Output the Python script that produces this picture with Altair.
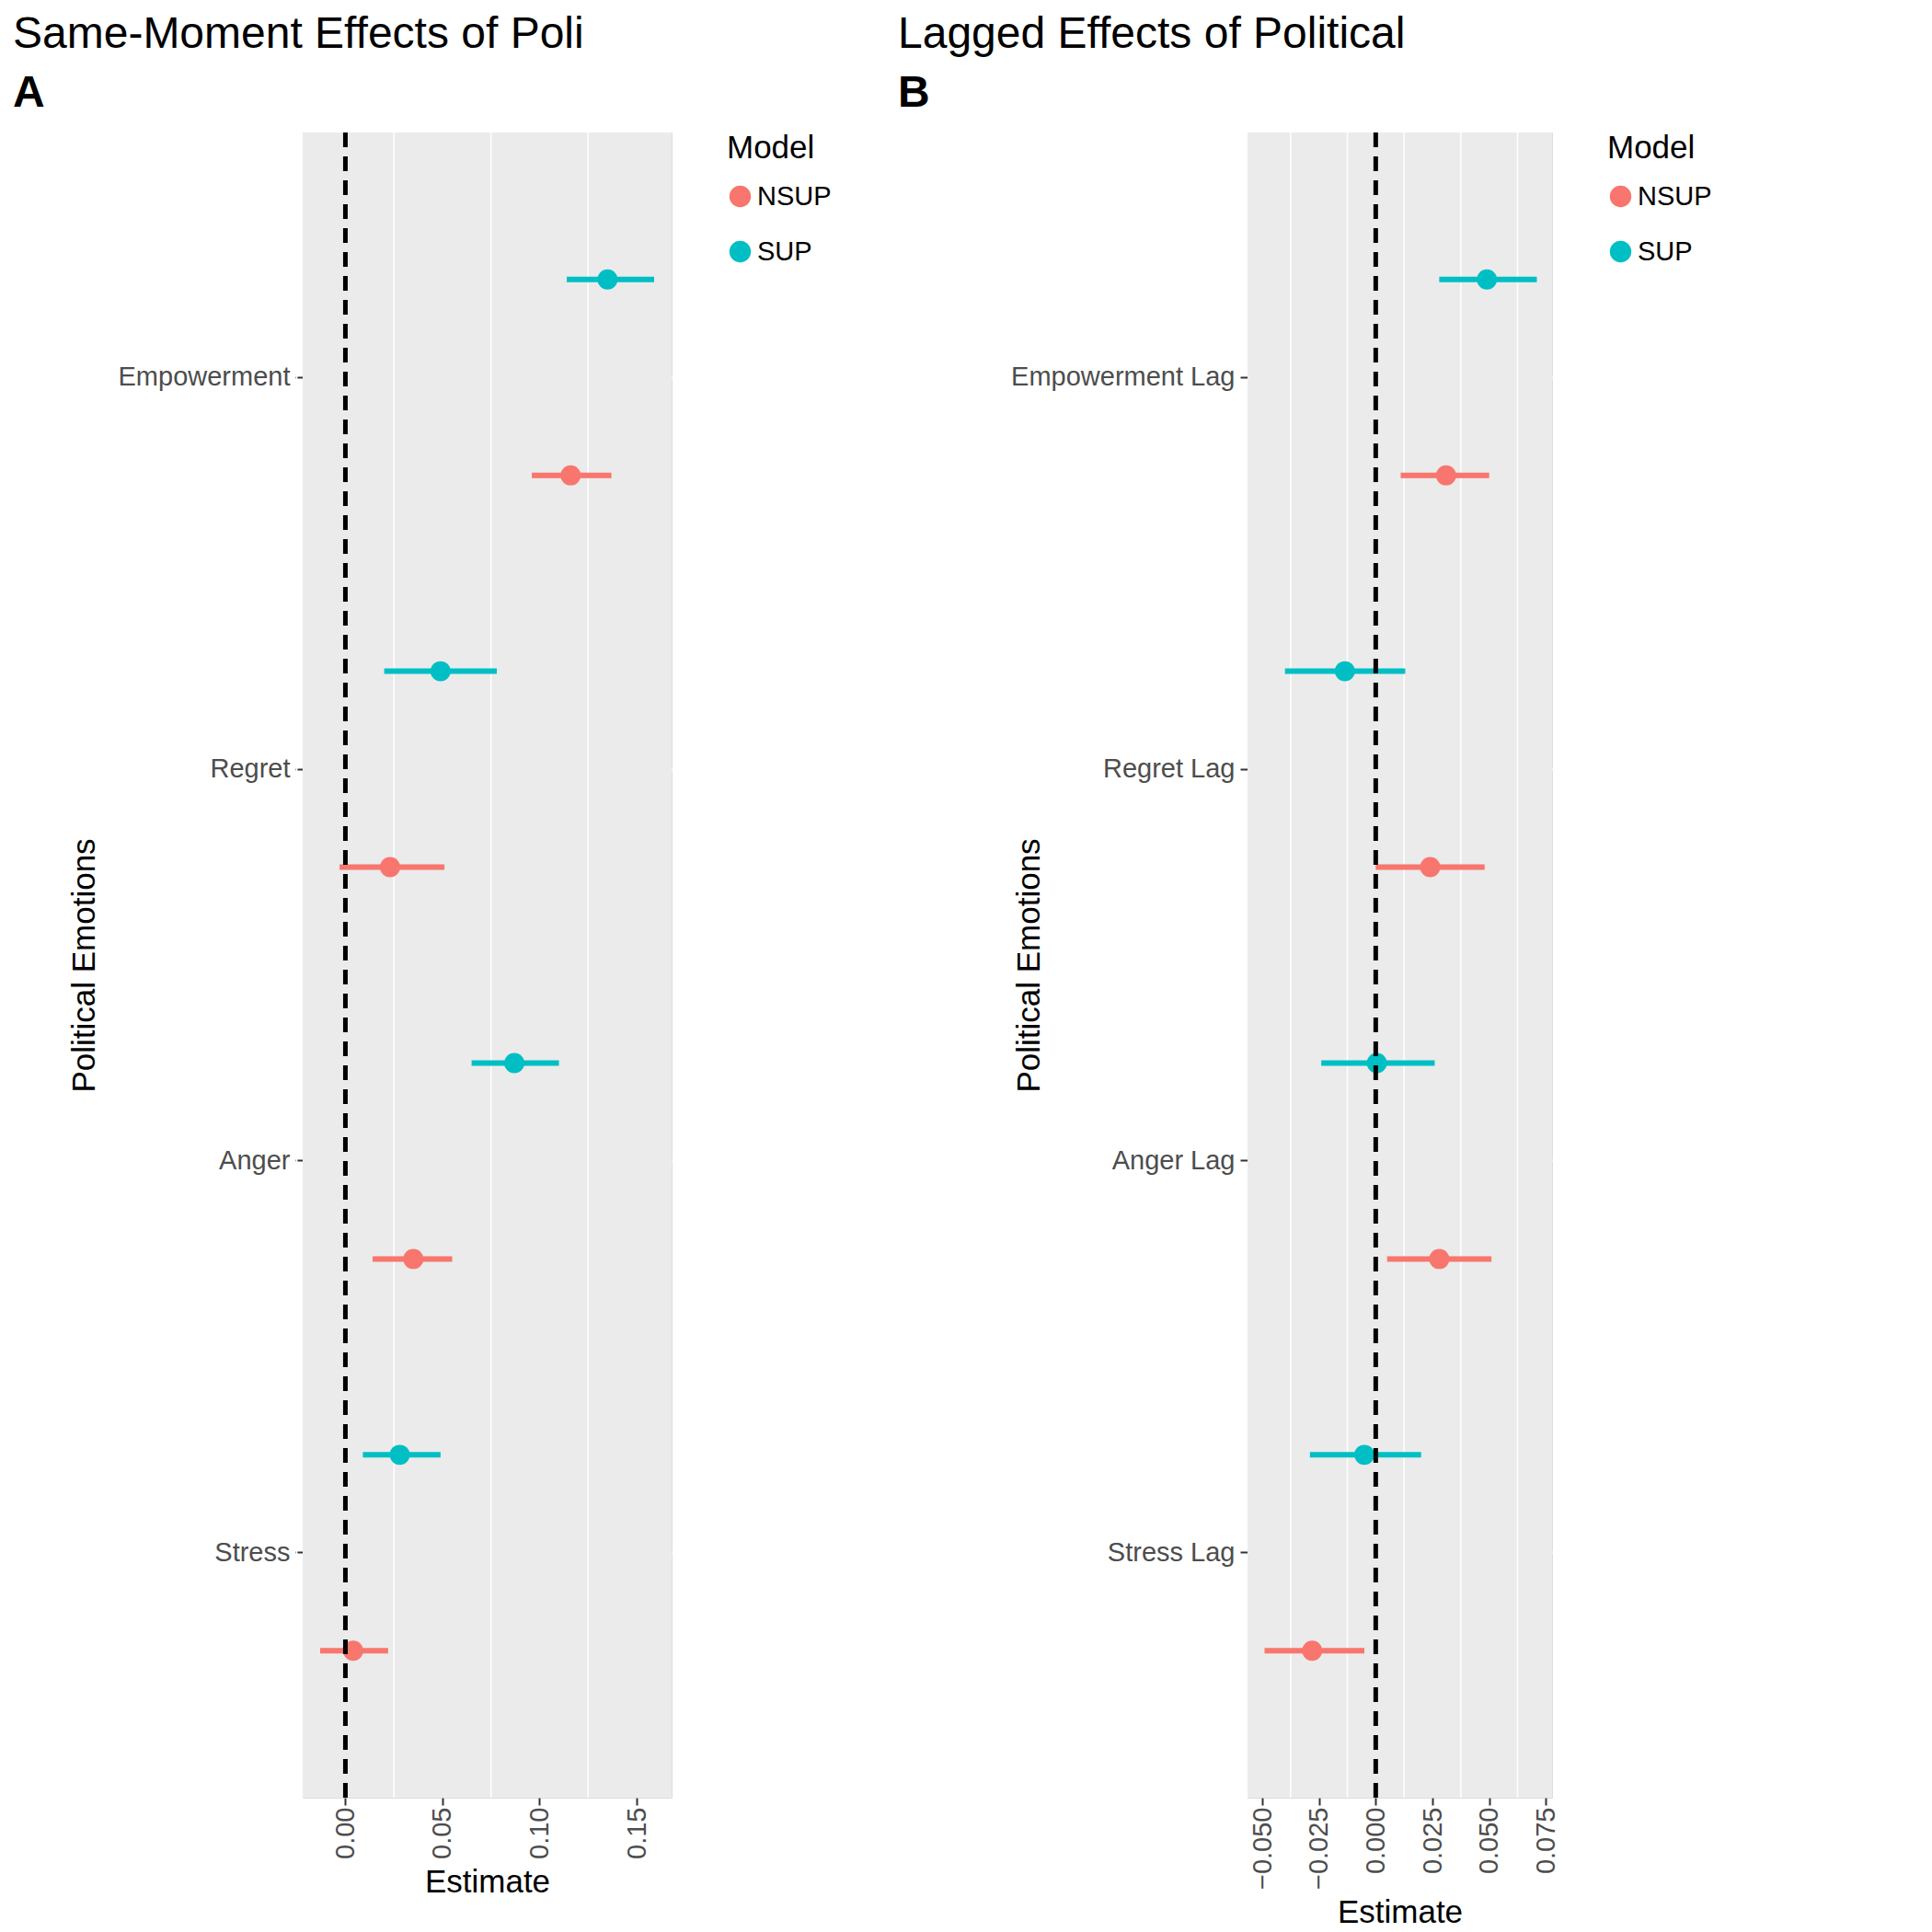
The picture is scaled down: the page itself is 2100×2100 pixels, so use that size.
import altair as alt
import pandas as pd

emotions_a = ["Empowerment", "Regret", "Anger", "Stress"]
emotions_b = ["Empowerment Lag", "Regret Lag", "Anger Lag", "Stress Lag"]
models = ["SUP", "NSUP"]

# per emotion: SUP then NSUP
est_a = [0.135, 0.116, 0.049, 0.023, 0.087, 0.035, 0.028, 0.004]
lo_a = [0.114, 0.096, 0.020, -0.003, 0.065, 0.014, 0.009, -0.013]
hi_a = [0.159, 0.137, 0.078, 0.051, 0.110, 0.055, 0.049, 0.022]

est_b = [0.049, 0.031, -0.0136, 0.024, 0.0005, 0.028, -0.005, -0.028]
lo_b = [0.028, 0.011, -0.040, 0.000, -0.024, 0.005, -0.029, -0.049]
hi_b = [0.071, 0.050, 0.013, 0.048, 0.026, 0.051, 0.020, -0.005]

minor_a = [-0.025, 0.025, 0.075, 0.125]
minor_b = [-0.0375, -0.0125, 0.0125, 0.0375, 0.0625]

FONT = "Liberation Sans"
COLORS = alt.Scale(domain=["NSUP", "SUP"], range=["#F8766D", "#00BFC4"])
HEIGHT = 1810


def panel(emotions, est, lo, hi, minor, xdom, xticks, width, title, tag, tagx):
    df = pd.DataFrame({
        "emotion": [e for e in emotions for _ in models],
        "model": models * len(emotions),
        "est": est, "lo": lo, "hi": hi,
    })
    ysc = alt.Scale(domain=emotions, paddingInner=0, paddingOuter=0.125)
    yoff = alt.Scale(domain=models, paddingInner=0, paddingOuter=0)
    xsc = alt.Scale(domain=xdom, nice=False, zero=False)
    y = alt.Y("emotion:N", scale=ysc, title="Political Emotions",
              axis=alt.Axis(labelFontSize=29, titleFontSize=35, titleFontWeight="normal",
                            labelColor="#4D4D4D", domain=False, tickColor="#333333",
                            tickSize=8, tickWidth=2, labelPadding=6, titlePadding=20,
                            labelLimit=0, grid=True, gridColor="white", gridWidth=3,
                            titleFont=FONT, labelFont=FONT))
    x = alt.X("est:Q", scale=xsc, title="Estimate",
              axis=alt.Axis(values=xticks, format=".2f" if len(xticks) == 4 else ".3f",
                            labelAngle=-90, labelFontSize=29, titleFontSize=35,
                            titleFontWeight="normal", labelColor="#4D4D4D", domain=False,
                            tickColor="#333333", tickSize=8, tickWidth=2, gridColor="white",
                            gridWidth=3, labelFont=FONT, titleFont=FONT, titlePadding=8))
    legend = alt.Legend(titleFontSize=35, titleFontWeight="normal", labelFontSize=29,
                        symbolSize=480, symbolType="circle", rowPadding=30,
                        titleFont=FONT, labelFont=FONT, offset=60, titlePadding=20,
                        orient="right")
    color = alt.Color("model:N", scale=COLORS, title="Model", legend=legend)
    bg = alt.Chart(pd.DataFrame({"b": [0]})).mark_rect(color="#EBEBEB").encode(
        x=alt.value(0), x2=alt.value(width), y=alt.value(0), y2=alt.value(HEIGHT))
    minor_df = pd.DataFrame({"m": minor})
    mgrid = alt.Chart(minor_df).mark_rule(color="white", strokeWidth=1.5).encode(
        x=alt.X("m:Q", scale=xsc))
    base = alt.Chart(df).encode(y=y, yOffset=alt.YOffset("model:N", scale=yoff))
    bars = base.mark_rule(strokeWidth=6).encode(
        x=alt.X("lo:Q", scale=xsc), x2="hi:Q", color=color)
    pts = base.mark_circle(size=480, opacity=1).encode(x=x, color=color)
    zero = alt.Chart(pd.DataFrame({"z": [0]})).mark_rule(
        color="black", strokeWidth=5, strokeDash=[16, 10]).encode(x=alt.X("z:Q", scale=xsc))
    tagc = alt.Chart(pd.DataFrame({"t": [tag]})).mark_text(
        font=FONT, fontSize=48, fontWeight="bold", align="left", baseline="alphabetic").encode(
        text="t:N", x=alt.value(tagx), y=alt.value(-28))
    return alt.layer(bg, mgrid, bars, pts, zero, tagc).properties(
        width=width, height=HEIGHT,
        title=alt.TitleParams(title, fontSize=48, fontWeight="normal", font=FONT,
                              anchor="start", offset=16))


a = panel(emotions_a, est_a, lo_a, hi_a, minor_a, [-0.022, 0.168],
          [0.0, 0.05, 0.10, 0.15], 401, "Same-Moment Effects of Poli", "A", -315)
b = panel(emotions_b, est_b, lo_b, hi_b, minor_b, [-0.0565, 0.0777],
          [-0.05, -0.025, 0.0, 0.025, 0.05, 0.075], 331, "Lagged Effects of Political", "B", -380)

chart = alt.hconcat(a, b, spacing=70).resolve_legend(color="independent").resolve_scale(
    color="independent").configure_view(stroke=None).configure(background="white")

chart.save("out.html", embed_options={"renderer": "svg", "actions": False})
